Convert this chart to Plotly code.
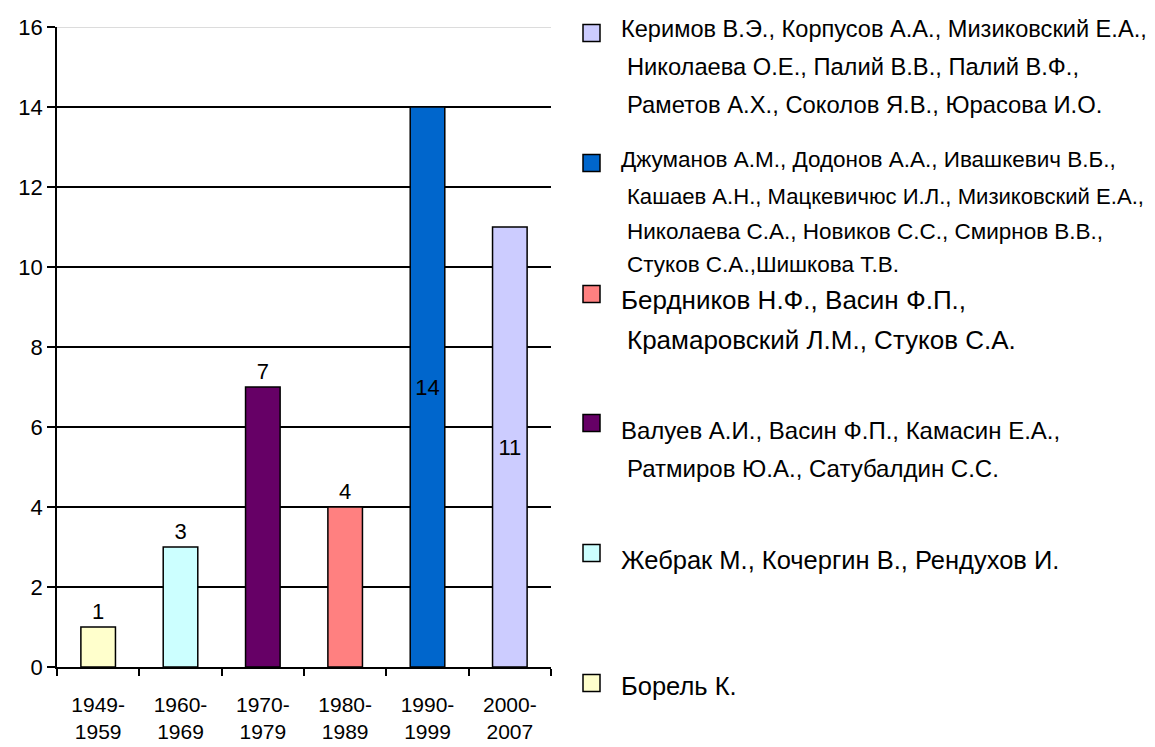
import plotly.graph_objects as go

# ---- data ----
periods = ["1949-1959", "1960-1969", "1970-1979", "1980-1989", "1990-1999", "2000-2007"]
tick_labels = ["1949-<br>1959", "1960-<br>1969", "1970-<br>1979", "1980-<br>1989", "1990-<br>1999", "2000-<br>2007"]
counts = [1, 3, 7, 4, 14, 11]
colors = ["#FFFFCC", "#CCFFFF", "#660066", "#FF8080", "#0066CC", "#CCCCFF"]
label_pos = ["outside", "outside", "outside", "outside", "inside", "inside"]

# legend entries (top to bottom = last period first)
legend_lines = [
    ["Керимов В.Э., Корпусов А.А., Мизиковский Е.А.,",
     "Николаева О.Е., Палий В.В., Палий В.Ф.,",
     "Раметов А.Х., Соколов Я.В., Юрасова И.О."],
    ["Джуманов А.М., Додонов А.А., Ивашкевич В.Б.,",
     "Кашаев А.Н., Мацкевичюс И.Л., Мизиковский Е.А.,",
     "Николаева С.А., Новиков С.С., Смирнов В.В.,",
     "Стуков С.А.,Шишкова Т.В."],
    ["Бердников Н.Ф., Васин Ф.П.,",
     "Крамаровский Л.М., Стуков С.А."],
    ["Валуев А.И., Васин Ф.П., Камасин Е.А.,",
     "Ратмиров Ю.А., Сатубалдин С.С."],
    ["Жебрак М., Кочергин В., Рендухов И."],
    ["Борель К."],
]
legend_colors = colors[::-1]

# ---- layout geometry (screen pixels; page body has an 8px margin) ----
OFF = 8
W, H = 1155 - OFF, 747 - OFF
PL, PR, PT, PB = 57 - OFF, 551 - OFF, 27 - OFF, 667 - OFF

def px_x(x):
    return (x - OFF - PL) / (PR - PL)

def px_y(y):
    return (PB - (y - OFF)) / (PB - PT)

FONT = "Liberation Sans, Arial, sans-serif"

fig = go.Figure()
fig.add_trace(go.Bar(
    x=periods, y=counts,
    marker=dict(color=colors, line=dict(color="black", width=1.5)),
    width=0.42,
    text=[str(v) for v in counts],
    textposition=label_pos,
    insidetextanchor="middle",
    textfont=dict(family=FONT, size=22, color="black"),
    constraintext="none",
    cliponaxis=False,
    showlegend=False,
    hoverinfo="x+y",
))

# legend built manually
square_cy = [33, 163, 294, 423, 553, 683]
line_cy = [[29, 67, 105], [160, 196, 231, 264], [300, 340], [430, 468], [560], [686]]
line_sizes = [[23.6, 23.7, 23.8], [22.5, 22.1, 22.5, 22.5], [26, 26], [24, 24], [25.5], [25.5]]
shapes = []
annotations = []
sq = 17
for i, lines in enumerate(legend_lines):
    cy = square_cy[i]
    shapes.append(dict(type="rect", xref="paper", yref="paper",
                       x0=px_x(583), x1=px_x(583 + sq),
                       y0=px_y(cy + sq / 2), y1=px_y(cy - sq / 2),
                       fillcolor=legend_colors[i], line=dict(color="black", width=1.5)))
    for j, line in enumerate(lines):
        annotations.append(dict(
            xref="paper", yref="paper",
            x=px_x(619 if j == 0 else 625), y=px_y(line_cy[i][j]),
            text=line, showarrow=False, xanchor="left", yanchor="middle",
            font=dict(family=FONT, size=line_sizes[i][j], color="black"),
        ))

# light top border line over the 16 gridline
shapes.append(dict(type="line", xref="paper", yref="y", x0=0, x1=1, y0=16, y1=16,
                   line=dict(color="#d0d0d0", width=1.5), layer="above"))

fig.update_layout(
    width=W, height=H,
    margin=dict(l=PL, r=W - PR, t=PT, b=H - PB, autoexpand=False),
    paper_bgcolor="white", plot_bgcolor="white",
    font=dict(family=FONT, color="black"),
    shapes=shapes,
    annotations=annotations,
    xaxis=dict(
        type="category",
        tickvals=periods, ticktext=tick_labels,
        tickson="boundaries",
        ticks="outside", ticklen=7, tickcolor="black", tickwidth=1.5,
        showline=True, linecolor="black", linewidth=1.5,
        showgrid=False,
        automargin=False,
        ticklabelstandoff=18,
        tickfont=dict(family=FONT, size=21, color="black"),
    ),
    yaxis=dict(
        range=[0, 16], dtick=2, tick0=0,
        showgrid=True, gridcolor="black", gridwidth=1.5,
        ticks="outside", ticklen=8, tickcolor="black", tickwidth=1.5,
        showline=True, linecolor="black", linewidth=1.5,
        zeroline=False,
        automargin=False,
        tickfont=dict(family=FONT, size=22, color="black"),
    ),
)

fig.write_html("out.html")
